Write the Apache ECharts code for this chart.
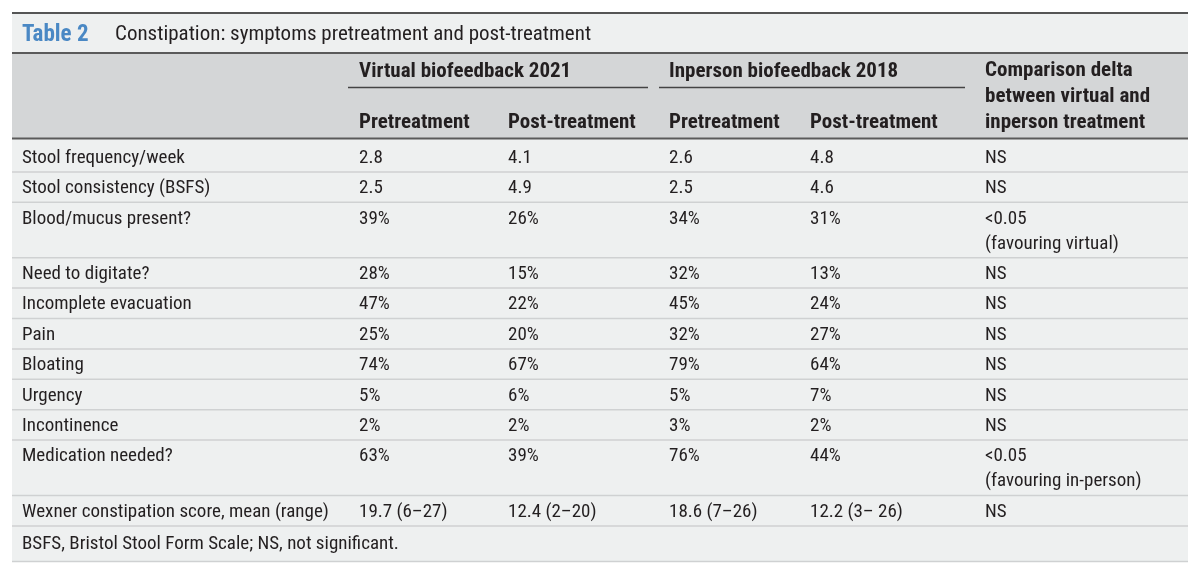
<!DOCTYPE html>
<html>
<head>
<meta charset="utf-8">
<script src="https://cdn.jsdelivr.net/npm/echarts@6/dist/echarts.min.js"></script>
<style>
html, body { margin: 0; padding: 0; background: #ffffff; }
#main { width: 1200px; height: 577px; }
</style>
</head>
<body>
<div id="main"></div>
<script>
// table content
var tableNo = 'Table 2';
var tableTitle = 'Constipation: symptoms pretreatment and post-treatment';
var groupHeaders = ['Virtual biofeedback 2021', 'Inperson biofeedback 2018'];
var subHeaders = ['Pretreatment', 'Post-treatment', 'Pretreatment', 'Post-treatment'];
var compareHeader = ['Comparison delta', 'between virtual and', 'inperson treatment'];

var rowLabels = ['Stool frequency/week', 'Stool consistency (BSFS)', 'Blood/mucus present?',
	'Need to digitate?', 'Incomplete evacuation', 'Pain', 'Bloating', 'Urgency',
	'Incontinence', 'Medication needed?', 'Wexner constipation score, mean (range)'];
var virtualPre = ['2.8', '2.5', '39%', '28%', '47%', '25%', '74%', '5%', '2%', '63%', '19.7 (6–27)'];
var virtualPost = ['4.1', '4.9', '26%', '15%', '22%', '20%', '67%', '6%', '2%', '39%', '12.4 (2–20)'];
var inpersonPre = ['2.6', '2.5', '34%', '32%', '45%', '32%', '79%', '5%', '3%', '76%', '18.6 (7–26)'];
var inpersonPost = ['4.8', '4.6', '31%', '13%', '24%', '27%', '64%', '7%', '2%', '44%', '12.2 (3– 26)'];
var comparison = ['NS', 'NS', '<0.05\n(favouring virtual)', 'NS', 'NS', 'NS', 'NS', 'NS', 'NS',
	'<0.05\n(favouring in-person)', 'NS'];
var footnote = 'BSFS, Bristol Stool Form Scale; NS, not significant.';

var FONT = "'Roboto Condensed', 'Liberation Sans Narrow', 'DejaVu Sans Condensed', 'Noto Sans', sans-serif";
var left = 12, right = 1188;
var colX = [22, 359, 508, 669, 810, 985];
var els = [];

function txt(x, y, s, size, weight, color) {
	els.push({
		type : 'text',
		style : {
			x : x, y : y, text : s,
			font : (weight || 'normal') + ' ' + size + 'px ' + FONT,
			fill : color || '#231f20',
			align : 'left',
			verticalAlign : 'middle'
		}
	});
}
function rect(y0, y1, color) {
	els.push({ type : 'rect', shape : { x : left, y : y0, width : right - left, height : y1 - y0 },
		style : { fill : color } });
}
function line(x0, x1, y, color, w) {
	els.push({ type : 'line', shape : { x1 : x0, y1 : y, x2 : x1, y2 : y },
		style : { stroke : color, lineWidth : w } });
}

// row positions from the number of text lines in each row
var rowTops = [];
var y = 142;
for (var i = 0; i < rowLabels.length; i++) {
	rowTops.push(y);
	var n = comparison[i].split('\n').length;
	y += 30.4 + (n - 1) * 25;
}
var tableBottom = y;
var footBottom = y + 35;

// backgrounds
rect(13, footBottom, '#eef0f0');
rect(53, 139, '#d4d6d7');

// title
line(left, right, 13, '#555555', 2);
txt(22, 35, tableNo, 23, 'bold', '#4a88c4');
txt(115, 35, tableTitle, 21, 'normal', '#231f20');
line(left, right, 53, '#5a5a5a', 2);

// header
txt(colX[1], 72, groupHeaders[0], 21, 'bold');
txt(colX[3], 72, groupHeaders[1], 21, 'bold');
line(348, 648, 87.5, '#444444', 1.5);
line(659, 965, 87.5, '#444444', 1.5);
for (var j = 0; j < subHeaders.length; j++) {
	txt(colX[j + 1], 123, subHeaders[j], 21, 'bold');
}
for (var k = 0; k < compareHeader.length; k++) {
	txt(colX[5], 71 + k * 26, compareHeader[k], 21, 'bold');
}
line(left, right, 138.5, '#5a5a5a', 2);

// body rows
for (var r = 0; r < rowLabels.length; r++) {
	var ty = rowTops[r] + 16;
	var cells = [rowLabels[r], virtualPre[r], virtualPost[r], inpersonPre[r], inpersonPost[r]];
	for (var c = 0; c < cells.length; c++) {
		txt(colX[c], ty, cells[c], 19);
	}
	var parts = comparison[r].split('\n');
	for (var p = 0; p < parts.length; p++) {
		txt(colX[5], ty + p * 25, parts[p], 19);
	}
	if (r > 0) line(left, right, rowTops[r] - 0.5, '#cfd1d2', 1.5);
}
line(left, right, tableBottom - 0.5, '#cfd1d2', 1.5);
txt(22, tableBottom + 18, footnote, 19);
line(left, right, footBottom, '#cfd1d2', 1.5);

var myChart = echarts.init(document.getElementById('main'));
myChart.setOption({
	animation : false,
	graphic : { elements : els }
});
</script>
</body>
</html>
